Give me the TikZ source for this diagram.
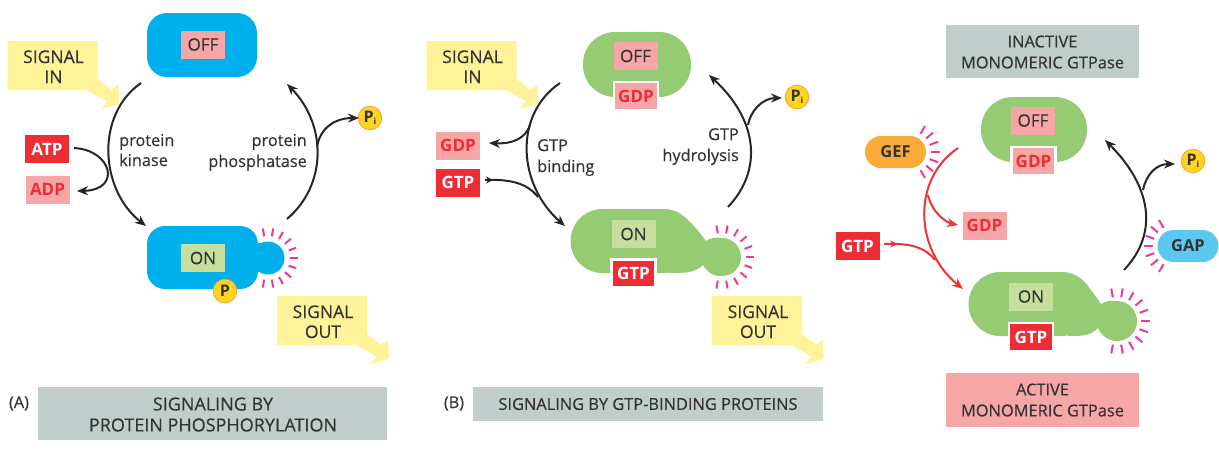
\documentclass[tikz,border=0pt]{standalone}
\usepackage{fontspec}
\setmainfont[FakeBold=0.35]{Open Sans}
\newfontfamily\lblfont{Open Sans}
\usetikzlibrary{arrows.meta,calc}
\definecolor{cyanbody}{HTML}{00B0EC}
\definecolor{greenbody}{HTML}{95CB72}
\definecolor{pinkbox}{HTML}{F7A6A8}
\definecolor{redbox}{HTML}{ED2C35}
\definecolor{onbox}{HTML}{C8DE9E}
\definecolor{sigyellow}{HTML}{FFF39A}
\definecolor{greybox}{HTML}{C0CDCB}
\definecolor{ink}{HTML}{333333}
\definecolor{ray}{HTML}{EC3A9A}
\definecolor{arrowred}{HTML}{EE3338}
\definecolor{gefcol}{HTML}{FBAB3C}
\definecolor{gapcol}{HTML}{5BC8F0}
\definecolor{phosfill}{HTML}{FFD520}
\definecolor{phosedge}{HTML}{F8A83C}
\tikzset{
  txt/.style={font=\fontsize{16.3}{16}\selectfont,text=ink,inner sep=0pt,text height=11pt,text depth=3pt},
  sigtxt/.style={font=\fontsize{17.5}{17}\selectfont,text=ink,inner sep=0pt,text height=12pt,text depth=0pt},
  lbl/.style={minimum width=44pt,minimum height=28pt,inner sep=0pt,font=\fontsize{17}{17}\selectfont},
  offlbl/.style={lbl,fill=pinkbox,text=ink},
  onlbl/.style={lbl,fill=onbox,text=ink},
  gdplbl/.style={lbl,fill=pinkbox,text=redbox,font=\fontsize{17}{17}\lblfont\bfseries},
  gtplbl/.style={lbl,fill=redbox,text=white,font=\fontsize{17}{17}\lblfont\bfseries},
  halo/.style={draw=white,line width=2.5pt},
  title/.style={inner sep=0pt,align=center,text=ink,font=\fontsize{16.4}{21}\selectfont},
  bigtitle/.style={inner sep=0pt,align=center,text=ink,font=\fontsize{18}{21}\selectfont},
  phos/.style={circle,fill=phosfill,draw=phosedge,line width=1pt,minimum size=23.5pt,inner sep=0pt,text=ink,font=\fontsize{16}{16}\lblfont\bfseries},
  pill/.style={rounded corners=16pt,minimum width=61pt,minimum height=32pt,inner sep=0pt,text=ink,font=\fontsize{16.5}{17}\lblfont\bfseries},
  raystyle/.style={ray,line width=2pt},
  conn/.style={black!85,line width=2pt},
  arrow/.style={conn,-{Stealth[length=11pt,width=9pt]}},
  redconn/.style={arrowred,line width=2pt},
  redarrow/.style={redconn,-{Stealth[length=11pt,width=9pt]}},
}
\newcommand{\sigbox}[4]{%
  \fill[sigyellow,shift={(#1,#2)}] (0,0)--(90,0)--(90,38)--(104,48.7)--(111,43.7)--(111.7,62.7)--(93.7,68)--(99.3,60.3)--(80,49.3)--(0,49.3)--cycle;
  \node[sigtxt,anchor=center] at (#1+46,#2+16) {#3};
  \node[sigtxt,anchor=center] at (#1+46,#2+36) {#4};
}
\newcommand{\pisub}{P{\fontsize{8.5}{8}\selectfont\raisebox{-2.5pt}{i}}}
\begin{document}
\begin{tikzpicture}[x=1pt,y=-1pt]
\useasboundingbox (0,0) rectangle (1219,451);
\fill[white] (0,0) rectangle (1219,451);

% ---------- Panel A ----------
\sigbox{7.5}{41}{SIGNAL}{IN}
\sigbox{277}{296}{SIGNAL}{OUT}
\node[fill=cyanbody,rounded corners=20pt,minimum width=110pt,minimum height=64pt,inner sep=0pt] (offbodyA) at (202,45) {};
\node[offlbl] (offA) at (203,44.5) {OFF};
\foreach \a in {100,80,...,-100}{\draw[raystyle] ($(268,258)+(\a:22 and -22)$) -- ($(268,258)+(\a:30 and -30)$);}
\node[circle,fill=cyanbody,minimum size=33pt,inner sep=0pt] (knobA) at (268,258) {};
\node[fill=cyanbody,rounded corners=18pt,minimum width=111pt,minimum height=63pt,inner sep=0pt] (onbodyA) at (202.5,257.5) {};
\fill[cyanbody] (250,243) rectangle (262,272);
\node[onlbl] (onA) at (203,258) {ON};
\node[phos] (pA) at (225,291) {P};
\node[phos] (piA) at (370,118) {\pisub};
\node[gtplbl] (atpA) at (47,149) {ATP};
\node[gdplbl] (adpA) at (47.5,189.5) {ADP};
\node[txt,anchor=west] (kinA) at (119,142) {protein};
\node[txt,anchor=west] (kinB) at (119,162) {kinase};
\node[txt,anchor=east] (phA) at (307,142) {protein};
\node[txt,anchor=east] (phB) at (307,163) {phosphatase};
\node[fill=greybox,minimum width=349pt,minimum height=53pt,inner sep=0pt] (titleboxA) at (212.5,413.5) {};
\node[bigtitle] (titleA) at (213,414.5) {SIGNALING BY\\PROTEIN PHOSPHORYLATION};
\node[txt,anchor=center] (tagA) at (19,404) {(A)};
\coordinate (a1) at (141,83);
\coordinate (a2) at (146,226);
\coordinate (a3) at (287,219);
\coordinate (a4) at (287,84);
\coordinate (a5) at (317,147);
\coordinate (a6) at (74,148);
\coordinate (a7) at (77,191);
\coordinate (a8) at (359,118);
\draw[arrow] (a1) .. controls (95,115) and (100,190) .. (a2);
\draw[arrow] (a3) .. controls (327,185) and (327,125) .. (a4);
\draw[arrow] (a5) .. controls (320,128) and (335,118) .. (a8);
\draw[arrow] (a6) .. controls (112,150) and (122,190) .. (a7);

% ---------- Panel B ----------
\sigbox{426.5}{41}{SIGNAL}{IN}
\sigbox{712}{296}{SIGNAL}{OUT}
\node[fill=greenbody,rounded corners=32pt,minimum width=108pt,minimum height=65pt,inner sep=0pt] (offbodyB) at (637,64.5) {};
\node[offlbl] (offB) at (635.5,56) {OFF};
\node[gdplbl,halo] (gdpB) at (636,96) {GDP};
\foreach \a in {100,80,...,-100}{\draw[raystyle] ($(722,257)+(\a:24 and -24)$) -- ($(722,257)+(\a:32 and -32)$);}
\node[fill=greenbody,rounded corners=32pt,minimum width=125pt,minimum height=64pt,inner sep=0pt] (onbodyB) at (633,241) {};
\fill[greenbody] (660,209) .. controls (680,209) and (692,222) .. (706,241) .. controls (715,235) and (730,235) .. (741,257)
  .. controls (738,275) and (715,285) .. (703,265) .. controls (695,273) and (685,273) .. (670,273) -- cycle;
\node[circle,fill=greenbody,minimum size=38pt,inner sep=0pt] (knobB) at (722,257) {};
\node[onlbl] (onB) at (633.5,234) {ON};
\node[gtplbl,halo] (gtpB) at (633.5,273.5) {GTP};
\node[phos] (piB) at (797,97) {\pisub};
\node[gdplbl] (gdpoutB) at (458,145.5) {GDP};
\node[gtplbl] (gtpinB) at (458,182.5) {GTP};
\node[txt,anchor=west] (bindA) at (537,147) {GTP};
\node[txt,anchor=west] (bindB) at (537,168) {binding};
\node[txt,anchor=east] (hydA) at (739,136) {GTP};
\node[txt,anchor=east] (hydB) at (739,157) {hydrolysis};
\node[fill=greybox,minimum width=350pt,minimum height=34pt,inner sep=0pt] (titleboxB) at (648,404) {};
\node[title] (titleB) at (648,404) {SIGNALING BY GTP-BINDING PROTEINS};
\node[txt,anchor=center] (tagB) at (454,404) {(B)};
\coordinate (b1) at (560,83);
\coordinate (b2) at (565,226);
\coordinate (b3) at (728,207);
\coordinate (b4) at (709,75);
\coordinate (b5) at (748,125);
\coordinate (b6) at (782,98);
\coordinate (b7) at (530,125);
\coordinate (b8) at (489,143);
\coordinate (b9) at (485,180);
\coordinate (b10) at (538,197);
\coordinate (b11) at (493,180);
\draw[arrow] (b1) .. controls (513,115) and (518,185) .. (b2);
\draw[arrow] (b3) .. controls (763,170) and (758,120) .. (b4);
\draw[arrow] (b5) .. controls (750,112) and (762,98) .. (b6);
\draw[arrow] (b7) .. controls (525,140) and (510,144) .. (b8);
\draw[conn] (b9) .. controls (510,179) and (527,183) .. (b10);
\draw[conn,-{Stealth[length=7pt,width=7pt]}] (b9) -- (b11);

% ---------- Panel C ----------
\node[fill=greybox,minimum width=193pt,minimum height=53pt,inner sep=0pt] (inactbox) at (1042.5,51.5) {};
\node[title] (inact) at (1042.5,52) {INACTIVE\\MONOMERIC GTPase};
\node[fill=pinkbox,minimum width=193pt,minimum height=54pt,inner sep=0pt] (actbox) at (1042.5,400) {};
\node[title] (act) at (1042.5,400) {ACTIVE\\MONOMERIC GTPase};
\begin{scope}[shift={(398,65)}]
\node[fill=greenbody,rounded corners=32pt,minimum width=106pt,minimum height=65pt,inner sep=0pt] (offbodyC) at (636,64.5) {};
\node[offlbl] (offC) at (635,55.5) {OFF};
\node[gdplbl,halo] (gdpC) at (635.5,96) {GDP};
\end{scope}
\begin{scope}[shift={(398,63)}]
\foreach \a in {100,80,...,-100}{\draw[raystyle] ($(719,258)+(\a:24 and -24)$) -- ($(719,258)+(\a:33 and -33)$);}
\node[fill=greenbody,rounded corners=32pt,minimum width=125pt,minimum height=64pt,inner sep=0pt] (onbodyC) at (633,241) {};
\fill[greenbody] (660,209) .. controls (680,209) and (690,222) .. (703,241) .. controls (712,235) and (727,235) .. (738,258)
  .. controls (735,275) and (712,285) .. (700,265) .. controls (692,273) and (685,273) .. (670,273) -- cycle;
\node[circle,fill=greenbody,minimum size=40pt,inner sep=0pt] (knobC) at (719,258) {};
\node[onlbl] (onC) at (633,233.5) {ON};
\node[gtplbl,halo] (gtpC) at (633,274) {GTP};
\end{scope}
\foreach \a in {60,40,...,-60}{\draw[raystyle] ($(910,152)+(\a:21 and -21)$) -- ($(910,152)+(\a:30 and -30)$);}
\foreach \a in {120,140,...,240}{\draw[raystyle] ($(1174,246)+(\a:21 and -21)$) -- ($(1174,246)+(\a:30 and -30)$);}
\node[pill,fill=gefcol] (gef) at (895.5,152) {GEF};
\node[pill,fill=gapcol] (gap) at (1188,246) {GAP};
\node[phos] (piC) at (1193,161) {\pisub};
\node[gdplbl] (gdpoutC) at (984.5,225.5) {GDP};
\node[gtplbl] (gtpinC) at (857.5,246) {GTP};
\coordinate (c1) at (958,148);
\coordinate (c2) at (963,289);
\coordinate (c3) at (1124,270);
\coordinate (c4) at (1105,140);
\coordinate (c5) at (1143,190);
\coordinate (c6) at (1175,164);
\coordinate (c7) at (928,195);
\coordinate (c8) at (958,225);
\coordinate (c9) at (884,244);
\coordinate (c10) at (935,260);
\coordinate (c11) at (898,244);
\draw[arrow] (c3) .. controls (1160,232) and (1150,185) .. (c4);
\draw[arrow] (c5) .. controls (1146,175) and (1156,164) .. (c6);
\draw[redarrow] (c1) .. controls (911,180) and (915,250) .. (c2);
\draw[redarrow] (c7) .. controls (932,212) and (945,222) .. (c8);
\draw[redconn] (c9) .. controls (910,243) and (925,247) .. (c10);
\draw[redconn,-{Stealth[length=8pt,width=7pt]}] (c9) -- (c11);
\end{tikzpicture}
\end{document}
